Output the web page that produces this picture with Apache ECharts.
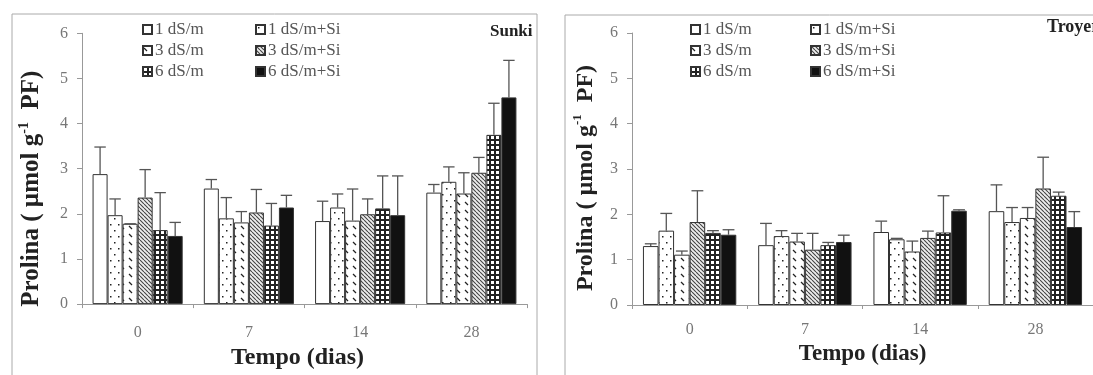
<!DOCTYPE html>
<html>
<head>
<meta charset="utf-8">
<script src="https://cdn.jsdelivr.net/npm/echarts@6/dist/echarts.min.js"></script>
<style>
html,body{margin:0;padding:0;background:#fff;}
#chart{width:1093px;height:375px;}
</style>
</head>
<body>
<div id="chart"></div>
<script>
// ---------- data ----------
const categories = ['0', '7', '14', '28'];
const seriesNames = ['1 dS/m', '1 dS/m+Si', '3 dS/m', '3 dS/m+Si', '6 dS/m', '6 dS/m+Si'];
const yTicks = [0, 1, 2, 3, 4, 5, 6];

// Sunki: mean per treatment across days 0,7,14,28
const sunkiMeans = [
  [2.88, 2.56, 1.84, 2.47],
  [1.97, 1.90, 2.14, 2.71],
  [1.78, 1.81, 1.85, 2.45],
  [2.36, 2.03, 1.99, 2.91],
  [1.64, 1.74, 2.12, 3.75],
  [1.51, 2.14, 1.97, 4.58]
];
// Sunki: top of error bar
const sunkiUpper = [
  [3.48, 2.76, 2.28, 2.65],
  [2.33, 2.36, 2.44, 3.04],
  [1.78, 2.05, 2.55, 2.91],
  [2.98, 2.54, 2.33, 3.25],
  [2.47, 2.23, 2.84, 4.45],
  [1.81, 2.41, 2.84, 5.40]
];
// Troyer
const troyerMeans = [
  [1.30, 1.32, 1.61, 2.07],
  [1.64, 1.52, 1.45, 1.83],
  [1.11, 1.40, 1.18, 1.92],
  [1.83, 1.22, 1.48, 2.57],
  [1.59, 1.32, 1.60, 2.41],
  [1.55, 1.39, 2.08, 1.72]
];
const troyerUpper = [
  [1.35, 1.80, 1.85, 2.65],
  [2.02, 1.64, 1.47, 2.15],
  [1.19, 1.58, 1.41, 2.15],
  [2.52, 1.58, 1.63, 3.26],
  [1.64, 1.38, 2.41, 2.49],
  [1.66, 1.54, 2.10, 2.06]
];

// ---------- patterns ----------
function pat(w, h, draw) {
  const c = document.createElement('canvas');
  c.width = w; c.height = h;
  const g = c.getContext('2d');
  draw(g);
  return { image: c, repeat: 'repeat' };
}
const fills = [
  '#ffffff',
  pat(8, 12, g => { g.fillStyle = '#fff'; g.fillRect(0, 0, 8, 12); g.fillStyle = '#222';
    g.fillRect(2, 2, 1.5, 1.5); g.fillRect(6, 8, 1.5, 1.5); }),
  pat(8, 8, g => { g.fillStyle = '#fff'; g.fillRect(0, 0, 8, 8); g.strokeStyle = '#222'; g.lineWidth = 1.2;
    g.beginPath(); g.moveTo(1, 2); g.lineTo(4, 5); g.stroke(); }),
  pat(4, 4, g => { g.fillStyle = '#eee'; g.fillRect(0, 0, 4, 4); g.strokeStyle = '#444'; g.lineWidth = 1.1;
    g.beginPath(); for (let k = -4; k <= 4; k += 4) { g.moveTo(k, 0); g.lineTo(k + 4, 4); } g.stroke(); }),
  pat(5, 5, g => { g.fillStyle = '#222'; g.fillRect(0, 0, 5, 5); g.fillStyle = '#fff'; g.fillRect(1, 1, 3, 3); }),
  '#111111'
];

const serif = 'Liberation Serif, Times New Roman, serif';

function yAxis(gridIndex, nameSize, nameGap, shift) {
  return {
    type: 'value', gridIndex: gridIndex, min: 0, max: 6, interval: 1,
    name: '{a|Prolina ( µmol g}{s|-1}{a|  PF)}',
    nameLocation: 'middle', nameGap: nameGap, nameRotate: 90,
    nameTextStyle: {
      padding: [0, shift, 0, 0],
      rich: {
        a: { fontFamily: serif, fontWeight: 'bold', fontSize: nameSize, color: '#222' },
        s: { fontFamily: serif, fontWeight: 'bold', fontSize: Math.round(nameSize * 0.55), color: '#222', padding: [0, 0, nameSize * 0.6, 0] }
      }
    },
    axisLine: { show: true, lineStyle: { color: '#999', width: 1 } },
    axisTick: { show: true, length: 5, lineStyle: { color: '#999' } },
    axisLabel: { margin: 14, fontFamily: serif, fontSize: 16, color: '#777',
      formatter: v => (yTicks.indexOf(v) >= 0 ? String(v) : '') },
    splitLine: { show: false }
  };
}
function xAxis(gridIndex, labelMargin, nameGap, nameSize, shift) {
  return {
    type: 'category', gridIndex: gridIndex, data: categories,
    name: 'Tempo (dias)', nameLocation: 'middle', nameGap: nameGap,
    nameTextStyle: { fontFamily: serif, fontWeight: 'bold', fontSize: nameSize, color: '#222', padding: [0, shift, 0, 0] },
    axisLine: { show: true, lineStyle: { color: '#999', width: 1 } },
    axisTick: { show: true, length: 4, inside: false, alignWithLabel: false, lineStyle: { color: '#999' } },
    axisLabel: { margin: labelMargin, fontFamily: serif, fontSize: 16, color: '#777' }
  };
}

const series = [];
function addPanel(idx, means, upper) {
  means.forEach((vals, i) => {
    series.push({
      type: 'bar', name: seriesNames[i], xAxisIndex: idx, yAxisIndex: idx,
      data: vals, barGap: '0%', barCategoryGap: '19%',
      itemStyle: { color: fills[i], borderColor: '#333', borderWidth: 1 },
      emphasis: { disabled: true }, z: 2
    });
  });
  const errData = [];
  means.forEach((vals, i) => vals.forEach((v, c) => errData.push([c, i, v, upper[i][c]])));
  series.push({
    type: 'custom', name: 'err' + idx, xAxisIndex: idx, yAxisIndex: idx, z: 5,
    data: errData,
    renderItem: function (params, api) {
      const cat = api.value(0), si = api.value(1);
      const base = api.coord([cat, api.value(2)]);
      const top = api.coord([cat, api.value(3)]);
      const catW = api.size([1, 0])[0];
      const bw = catW * 0.81 / 6;
      const x = base[0] + (si - 2.5) * bw;
      const hw = bw * 0.38;
      const st = { stroke: '#555', lineWidth: 1.3 };
      return { type: 'group', children: [
        { type: 'line', shape: { x1: x, y1: base[1], x2: x, y2: top[1] }, style: st },
        { type: 'line', shape: { x1: x - hw, y1: top[1], x2: x + hw, y2: top[1] }, style: st }
      ]};
    }
  });
}
addPanel(0, sunkiMeans, sunkiUpper);
addPanel(1, troyerMeans, troyerUpper);

function legend(left, top, names) {
  return {
    left: left, top: top, orient: 'vertical', itemWidth: 9, itemHeight: 9, itemGap: 4,
    data: names, selectedMode: false, icon: 'rect',
    textStyle: { fontFamily: serif, fontSize: 17, color: '#555', padding: [0, 0, 0, -2] }
  };
}

const option = {
  animation: false,
  backgroundColor: '#fff',
  grid: [
    { left: 82, top: 33.3, width: 445, height: 273.2 },
    { left: 632, top: 33, width: 468, height: 272 }
  ],
  xAxis: [xAxis(0, 21, 40, 24, 14), xAxis(1, 17, 37, 23, 0)],
  yAxis: [yAxis(0, 25, 36, 40), yAxis(1, 24, 33, 18)],
  legend: [
    legend(137, 16, [seriesNames[0], seriesNames[2], seriesNames[4]]),
    legend(250, 16, [seriesNames[1], seriesNames[3], seriesNames[5]]),
    legend(685, 16, [seriesNames[0], seriesNames[2], seriesNames[4]]),
    legend(805, 16, [seriesNames[1], seriesNames[3], seriesNames[5]])
  ],
  graphic: [
    { type: 'rect', shape: { x: 12, y: 14, width: 525, height: 400 }, style: { fill: 'none', stroke: '#aaa', lineWidth: 1 }, z: 0, silent: true },
    { type: 'rect', shape: { x: 565, y: 15, width: 600, height: 400 }, style: { fill: 'none', stroke: '#aaa', lineWidth: 1 }, z: 0, silent: true },
    { type: 'text', left: 490, top: 23, style: { text: 'Sunki', font: 'bold 17px ' + serif, fill: '#222' }, z: 10 },
    { type: 'text', left: 1047, top: 18, style: { text: 'Troyer', font: 'bold 18px ' + serif, fill: '#222' }, z: 10 }
  ],
  series: series
};
const chart = echarts.init(document.getElementById('chart'), null, { renderer: 'canvas' });
chart.setOption(option);
</script>
</body>
</html>
